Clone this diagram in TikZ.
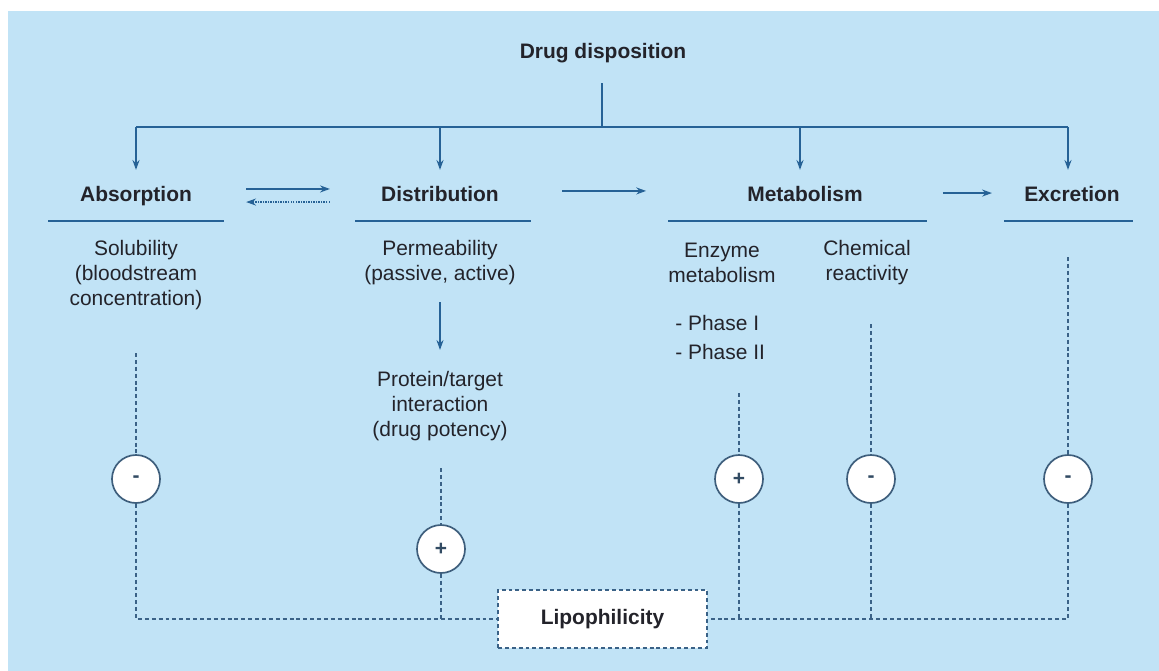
\documentclass[tikz,border=0pt]{standalone}
\usepackage{fontspec}
\setmainfont{Liberation Sans}
\usepackage{xcolor}
\usetikzlibrary{arrows.meta}
\definecolor{skyback}{RGB}{193,227,246}
\definecolor{lineblue}{RGB}{38,98,150}
\definecolor{dashblue}{RGB}{58,98,135}
\definecolor{ringblue}{RGB}{62,94,124}
\definecolor{inkgray}{RGB}{35,35,42}
\newcommand{\sz}{\fontsize{14.9}{17.8}\selectfont}
\tikzset{
  hdr/.style={font=\sz\bfseries, text=inkgray, text height=11pt, text depth=3pt, inner sep=0pt},
  txt/.style={font=\sz, text=inkgray, align=center, inner sep=0pt},
  ln/.style={draw=lineblue, line width=1.2pt},
  arr/.style={draw=lineblue, line width=1.1pt, -{Stealth[length=7pt,width=5pt]}},
  dl/.style={draw=dashblue, line width=1pt, dash pattern=on 2.8pt off 2.1pt},
  sign/.style={circle, draw=ringblue, fill=white, line width=1.2pt, minimum size=1.2cm,
    inner sep=0pt, font=\sz\bfseries, text=ringblue!80!black}
}
\begin{document}
\begin{tikzpicture}[x=0.025cm, y=-0.025cm]
  \useasboundingbox (0,0) rectangle (1159,671);
  \fill[white] (0,0) rectangle (1159,671);
  \fill[skyback] (8,11) rectangle (1159,671);

  \node[hdr] (title) at (603,53) {Drug disposition};
  \coordinate (b0) at (602,127);
  \coordinate (b1) at (136,127);
  \coordinate (b2) at (440,127);
  \coordinate (b3) at (800,127);
  \coordinate (b4) at (1068,127);
  \draw[ln, shorten <=0.5cm] (title.south -| b0) -- (b0);
  \draw[ln] (b1) -- (b4);

  \node[hdr] (absorp) at (136,196) {Absorption};
  \node[hdr] (distr)  at (440,196) {Distribution};
  \node[hdr] (metab)  at (805,196) {Metabolism};
  \node[hdr] (excr)   at (1072,196) {Excretion};
  \foreach \b/\h in {b1/absorp, b2/distr, b3/metab, b4/excr}
    \draw[arr, shorten >=0.4cm] (\b) -- (\b |- \h.north);

  \draw[ln] (48,221) -- (224,221);
  \draw[ln] (355,221) -- (531,221);
  \draw[ln] (668,221) -- (927,221);
  \draw[ln] (1004,221) -- (1133,221);

  \draw[arr, shorten <=1.35cm, shorten >=1.275cm] ([yshift=5pt]absorp.east) -- ([yshift=5pt]distr.west);
  \draw[arr, dash pattern=on 1pt off 0.8pt, shorten <=1.275cm, shorten >=1.35cm]
    ([yshift=-4.3pt]distr.west) -- ([yshift=-4.3pt]absorp.east);
  \draw[arr, shorten <=1.575cm, shorten >=2.525cm] ([yshift=3.6pt]distr.east) -- ([yshift=3.6pt]metab.west);
  \draw[arr, shorten <=2cm, shorten >=0.8cm] ([yshift=2.1pt]metab.east) -- ([yshift=2.1pt]excr.west);

  \node[txt] (solub) at (136,275) {Solubility\\(bloodstream\\concentration)};
  \node[txt] (perm)  at (440,262.5) {Permeability\\(passive, active)};
  \node[txt] (prot)  at (440,406) {Protein/target\\interaction\\(drug potency)};
  \node[txt] (enzym) at (722,262.5) {Enzyme\\metabolism};
  \node[txt] (chem)  at (867,262.5) {Chemical\\reactivity};
  \node[txt, align=left, anchor=west] (phase) at (675,337.5) {- Phase I\\[2.8pt]- Phase II};
  \draw[arr, shorten <=0.425cm, shorten >=0.525cm] (perm.south) -- (prot.north);

  \node[draw=dashblue, dash pattern=on 2.8pt off 2.1pt, line width=1pt, fill=white,
    minimum width=5.225cm, minimum height=1.45cm, font=\sz\bfseries, text=inkgray]
    (lipo) at (602.5,619) {Lipophilicity};

  \coordinate (tabs) at (136,353);
  \coordinate (tdis) at (441,468);
  \coordinate (tenz) at (739,393);
  \coordinate (tche) at (871,324);
  \coordinate (texc) at (1068,257);
  \node[sign] (mabs) at (136,479) {-};
  \node[sign] (mdis) at (441,549) {+};
  \node[sign] (menz) at (739,479) {+};
  \node[sign] (mche) at (871,479) {-};
  \node[sign] (mexc) at (1068,479) {-};
  \foreach \t/\m in {tabs/mabs, tdis/mdis, tenz/menz, tche/mche, texc/mexc}
    \draw[dl] (\t) -- (\m);
  \draw[dl] (mabs) |- (lipo.west);
  \draw[dl] (mdis) -- (mdis |- lipo.west);
  \draw[dl] (mexc) |- (lipo.east);
  \draw[dl] (menz) -- (menz |- lipo.east);
  \draw[dl] (mche) -- (mche |- lipo.east);
\end{tikzpicture}
\end{document}
